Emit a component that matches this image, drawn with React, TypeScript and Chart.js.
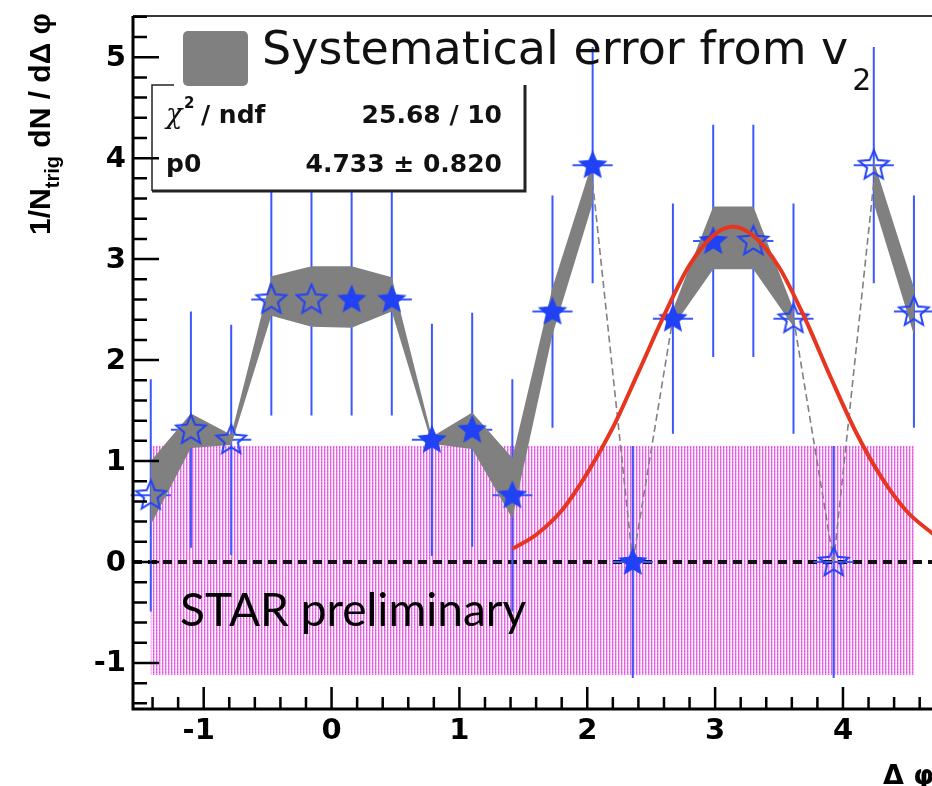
import React, { useEffect, useRef } from "react";
import { Chart, registerables } from "chart.js";

Chart.register(...registerables);

// Δφ bin centres: 20 bins of width π/10 spanning [-π/2, 3π/2]
const binCenters = [
  -1.414, -1.1, -0.785, -0.471, -0.157, 0.157, 0.471, 0.785, 1.1, 1.414,
  1.728, 2.042, 2.356, 2.67, 2.985, 3.299, 3.613, 3.927, 4.241, 4.555,
];
// per-trigger associated yield
const yields = [
  0.66, 1.31, 1.21, 2.6, 2.6, 2.6, 2.6, 1.21, 1.31, 0.66,
  2.48, 3.93, 0.0, 2.41, 3.18, 3.18, 2.41, 0.0, 3.93, 2.48,
];
// statistical errors (vertical)
const statErr = [
  1.15, 1.17, 1.14, 1.15, 1.15, 1.15, 1.15, 1.15, 1.16, 1.15,
  1.15, 1.17, 1.15, 1.14, 1.15, 1.15, 1.14, 1.15, 1.17, 1.15,
];
// filled stars = measured bins, open stars = reflected bins
const measured = [
  false, false, false, false, false, true, true, true, true, true,
  true, true, true, true, true, false, false, false, false, false,
];
const binHalfWidth = 0.157;
// systematic band from v2 (lower / upper edge)
const sysLow = [
  0.37, 1.13, 1.16, 2.44, 2.33, 2.32, 2.48, 1.17, 1.12, 0.43,
  2.25, 3.55, 0.0, 2.33, 2.9, 2.9, 2.33, 0.0, 3.55, 2.25,
];
const sysHigh = [
  1.0, 1.47, 1.26, 2.83, 2.93, 2.93, 2.82, 1.24, 1.48, 1.03,
  2.72, 3.97, 0.0, 2.5, 3.52, 3.52, 2.5, 0.0, 3.97, 2.72,
];
// away-side fit curve
const fitX = [1.414, 1.6, 1.8, 2.0, 2.2, 2.4, 2.6, 2.8, 3.0, 3.14, 3.3, 3.5, 3.7, 3.9, 4.1, 4.3, 4.5, 4.712];
const fitY = [0.13, 0.27, 0.51, 0.88, 1.33, 1.88, 2.44, 2.94, 3.25, 3.32, 3.23, 2.92, 2.42, 1.84, 1.29, 0.84, 0.5, 0.27];
// ZYAM normalisation uncertainty region
const zyamX = [-1.414, 4.555];
const zyamY = [-1.12, 1.15];

const xTicks = [-1, 0, 1, 2, 3, 4];
const yTicks = [-1, 0, 1, 2, 3, 4, 5];
const xRange = [-1.553, 4.712];
const yRange = [-1.456, 5.408];

const fitChi2 = "25.68 / 10";
const fitP0 = "4.733 \u00b1 0.820";
const legendText = "Systematical error from v";
const legendSub = "2";
const watermark = "STAR preliminary";

const BLUE = "#2141f5";
const BAR_BLUE = "#3b58ff";
const GRAY = "#808080";
const RED = "#e6361f";

function makeStar(filled: boolean): HTMLCanvasElement {
  const c = document.createElement("canvas");
  c.width = 36;
  c.height = 36;
  const g = c.getContext("2d")!;
  const R = 15.5;
  const r = 7;
  g.beginPath();
  for (let i = 0; i < 10; i++) {
    const a = -Math.PI / 2 + (i * Math.PI) / 5;
    const rad = i % 2 === 0 ? R : r;
    const px = 18 + rad * Math.cos(a);
    const py = 18.5 + rad * Math.sin(a);
    if (i === 0) g.moveTo(px, py);
    else g.lineTo(px, py);
  }
  g.closePath();
  if (filled) {
    g.fillStyle = BLUE;
    g.fill();
  } else {
    g.strokeStyle = BLUE;
    g.lineWidth = 2;
    g.stroke();
  }
  return c;
}

function makeDots(ctx: CanvasRenderingContext2D): CanvasPattern | string {
  const t = document.createElement("canvas");
  t.width = 3;
  t.height = 3;
  const g = t.getContext("2d")!;
  const cells = [
    ["#e050e0", "#f3b8f3", "#fdf0fd"],
    ["#e878e8", "#f6cbf6", "#fdf0fd"],
    ["#e464e4", "#f4c0f4", "#fdf0fd"],
  ];
  cells.forEach((row, y) =>
    row.forEach((col, x) => {
      g.fillStyle = col;
      g.fillRect(x, y, 1, 1);
    })
  );
  return ctx.createPattern(t, "repeat") || "#f0a0f0";
}

const backLayer = {
  id: "backLayer",
  beforeDatasetsDraw(chart: any) {
    const ctx: CanvasRenderingContext2D = chart.ctx;
    const xs = chart.scales.x;
    const ys = chart.scales.y;
    const area = chart.chartArea;
    const X = (v: number) => xs.getPixelForValue(v);
    const Y = (v: number) => ys.getPixelForValue(v);
    ctx.save();

    // ZYAM region
    ctx.fillStyle = makeDots(ctx);
    ctx.fillRect(X(zyamX[0]), Y(zyamY[1]), X(zyamX[1]) - X(zyamX[0]), Y(zyamY[0]) - Y(zyamY[1]));

    // zero line
    ctx.strokeStyle = "#111";
    ctx.lineWidth = 4;
    ctx.setLineDash([9, 6]);
    ctx.beginPath();
    ctx.moveTo(area.left, Y(0));
    ctx.lineTo(area.right, Y(0));
    ctx.stroke();
    ctx.setLineDash([]);

    // statistical error bars
    ctx.strokeStyle = BAR_BLUE;
    ctx.lineWidth = 2;
    ctx.beginPath();
    binCenters.forEach((x, i) => {
      const px = X(x);
      ctx.moveTo(px, Y(yields[i] + statErr[i]));
      ctx.lineTo(px, Y(yields[i] - statErr[i]));
      ctx.moveTo(X(x - binHalfWidth), Y(yields[i]));
      ctx.lineTo(X(x + binHalfWidth), Y(yields[i]));
    });
    ctx.stroke();

    // systematic band
    ctx.fillStyle = GRAY;
    ctx.beginPath();
    for (let k = 0; k < binCenters.length - 1; k++) {
      const w0 = sysHigh[k] - sysLow[k];
      const w1 = sysHigh[k + 1] - sysLow[k + 1];
      if (w0 === 0 || w1 === 0) continue;
      ctx.moveTo(X(binCenters[k]), Y(sysHigh[k]));
      ctx.lineTo(X(binCenters[k + 1]), Y(sysHigh[k + 1]));
      ctx.lineTo(X(binCenters[k + 1]), Y(sysLow[k + 1]));
      ctx.lineTo(X(binCenters[k]), Y(sysLow[k]));
      ctx.closePath();
    }
    ctx.fill();
    ctx.strokeStyle = GRAY;
    ctx.lineWidth = 1.6;
    ctx.setLineDash([7, 4]);
    ctx.beginPath();
    for (let k = 0; k < binCenters.length - 1; k++) {
      const w0 = sysHigh[k] - sysLow[k];
      const w1 = sysHigh[k + 1] - sysLow[k + 1];
      if (w0 !== 0 && w1 !== 0) continue;
      ctx.moveTo(X(binCenters[k]), Y((sysHigh[k] + sysLow[k]) / 2));
      ctx.lineTo(X(binCenters[k + 1]), Y((sysHigh[k + 1] + sysLow[k + 1]) / 2));
    }
    ctx.stroke();
    ctx.setLineDash([]);
    ctx.restore();
  },
};

const frontLayer = {
  id: "frontLayer",
  afterDraw(chart: any) {
    const ctx: CanvasRenderingContext2D = chart.ctx;
    const xs = chart.scales.x;
    const ys = chart.scales.y;
    const area = chart.chartArea;
    const X = (v: number) => xs.getPixelForValue(v);
    const Y = (v: number) => ys.getPixelForValue(v);
    ctx.save();

    // fit statistics box
    const bx0 = 152, by0 = 85, bx1 = 525, by1 = 191;
    ctx.fillStyle = "#fff";
    ctx.fillRect(bx0, by0, bx1 - bx0, by1 - by0);
    ctx.strokeStyle = "#222";
    ctx.lineWidth = 1.5;
    ctx.beginPath();
    ctx.moveTo(174, by0);
    ctx.lineTo(bx0, by0);
    ctx.lineTo(bx0, by1);
    ctx.stroke();
    ctx.lineWidth = 3;
    ctx.beginPath();
    ctx.moveTo(bx0, by1);
    ctx.lineTo(bx1, by1);
    ctx.lineTo(bx1, by0);
    ctx.stroke();

    ctx.fillStyle = "#111";
    ctx.textBaseline = "alphabetic";
    ctx.textAlign = "left";
    ctx.font = "italic 27px 'DejaVu Serif'";
    ctx.fillText("\u03c7", 166, 123);
    ctx.font = "bold 15px 'DejaVu Sans'";
    ctx.fillText("2", 184, 108);
    ctx.font = "bold 25px 'DejaVu Sans'";
    ctx.fillText("/ ndf", 201, 123);
    ctx.fillText("p0", 166, 172);
    ctx.textAlign = "right";
    ctx.fillText(fitChi2, 502, 123);
    ctx.fillText(fitP0, 502, 172);

    // legend
    ctx.fillStyle = GRAY;
    ctx.beginPath();
    (ctx as any).roundRect(183, 31, 65, 55, 5);
    ctx.fill();
    ctx.fillStyle = "#111";
    ctx.textAlign = "left";
    ctx.font = "46px 'DejaVu Sans'";
    ctx.fillText(legendText, 262, 64);
    const lw = ctx.measureText(legendText).width;
    ctx.font = "30px 'DejaVu Sans'";
    ctx.fillText(legendSub, 262 + lw + 4, 90);

    // watermark
    ctx.font = "46px Lato";
    ctx.fillStyle = "#000";
    ctx.fillText(watermark, 180, 626);

    // frame
    ctx.strokeStyle = "#3a3a3a";
    ctx.lineWidth = 2;
    ctx.beginPath();
    ctx.moveTo(area.left, area.top);
    ctx.lineTo(area.right + 20, area.top);
    ctx.stroke();
    ctx.strokeStyle = "#000";
    ctx.lineWidth = 3;
    ctx.beginPath();
    ctx.moveTo(area.left, area.top);
    ctx.lineTo(area.left, area.bottom);
    ctx.lineTo(area.right + 20, area.bottom);
    ctx.stroke();

    // ticks
    ctx.lineWidth = 2.5;
    ctx.beginPath();
    for (let i = -7; i <= 27; i++) {
      const v = i / 5;
      if (v < yRange[0] || v > yRange[1]) continue;
      const len = i % 5 === 0 ? 26 : 14;
      ctx.moveTo(area.left, Y(v));
      ctx.lineTo(area.left + len, Y(v));
    }
    for (let i = -7; i <= 23; i++) {
      const v = i / 5;
      if (v < xRange[0] || v > xRange[1]) continue;
      const len = i % 5 === 0 ? 22 : 12;
      ctx.moveTo(X(v), area.bottom);
      ctx.lineTo(X(v), area.bottom - len);
    }
    ctx.stroke();

    // tick labels
    ctx.fillStyle = "#000";
    ctx.font = "bold 29px 'DejaVu Sans'";
    ctx.textAlign = "right";
    ctx.textBaseline = "middle";
    yTicks.forEach((v) => ctx.fillText(String(v), 126, Y(v) + 1));
    ctx.textAlign = "center";
    xTicks.forEach((v) => ctx.fillText(String(v), X(v) - (v < 0 ? 5 : 0), area.bottom + 22));

    // axis titles
    ctx.textBaseline = "alphabetic";
    ctx.textAlign = "left";
    ctx.font = "bold 27px 'DejaVu Sans'";
    ctx.fillText("\u0394 \u03c6", 883, 784);

    ctx.save();
    ctx.translate(50, 13);
    ctx.rotate(-Math.PI / 2);
    const main1 = "1/N";
    const sub = "trig";
    const main2 = " dN / d\u0394 \u03c6";
    const mainFont = "bold 30px 'Liberation Sans'";
    const subFont = "bold 20px 'Liberation Sans'";
    ctx.font = mainFont;
    const w1 = ctx.measureText(main1).width;
    const w3 = ctx.measureText(main2).width;
    ctx.font = subFont;
    const w2 = ctx.measureText(sub).width;
    let cx = -(w1 + w2 + w3);
    ctx.font = mainFont;
    ctx.fillText(main1, cx, 0);
    cx += w1;
    ctx.font = subFont;
    ctx.fillText(sub, cx, 9);
    cx += w2;
    ctx.font = mainFont;
    ctx.fillText(main2, cx, 0);
    ctx.restore();

    ctx.restore();
  },
};

export default function App() {
  const ref = useRef<HTMLCanvasElement | null>(null);

  useEffect(() => {
    const canvas = ref.current;
    if (!canvas) return;
    const filledStar = makeStar(true);
    const openStar = makeStar(false);
    const measuredPts = binCenters
      .map((x, i) => ({ x, y: yields[i], m: measured[i] }))
      .filter((p) => p.m)
      .map(({ x, y }) => ({ x, y }));
    const reflectedPts = binCenters
      .map((x, i) => ({ x, y: yields[i], m: measured[i] }))
      .filter((p) => !p.m)
      .map(({ x, y }) => ({ x, y }));

    const chart = new Chart(canvas, {
      type: "scatter",
      data: {
        datasets: [
          {
            type: "line",
            data: fitX.map((x, i) => ({ x, y: fitY[i] })),
            borderColor: RED,
            borderWidth: 4,
            pointRadius: 0,
            cubicInterpolationMode: "monotone",
            fill: false,
            order: 0,
          } as any,
          {
            data: measuredPts,
            pointStyle: filledStar as any,
            pointRadius: 15,
            order: 1,
          },
          {
            data: reflectedPts,
            pointStyle: openStar as any,
            pointRadius: 15,
            order: 1,
          },
        ],
      },
      options: {
        animation: false,
        responsive: false,
        devicePixelRatio: 1,
        layout: { padding: { left: 133, right: 12.6, top: 13, bottom: 77 } },
        scales: {
          x: { type: "linear", min: xRange[0], max: xRange[1], display: false },
          y: { type: "linear", min: yRange[0], max: yRange[1], display: false },
        },
        plugins: {
          legend: { display: false },
          tooltip: { enabled: false },
        },
      },
      plugins: [backLayer, frontLayer],
    });
    return () => chart.destroy();
  }, []);

  return (
    <div
      style={{
        position: "fixed",
        left: 0,
        top: 0,
        width: 932,
        height: 786,
        overflow: "hidden",
        background: "#fff",
      }}
    >
      <canvas ref={ref} width={950} height={786} style={{ display: "block", width: 950, height: 786 }} />
    </div>
  );
}
